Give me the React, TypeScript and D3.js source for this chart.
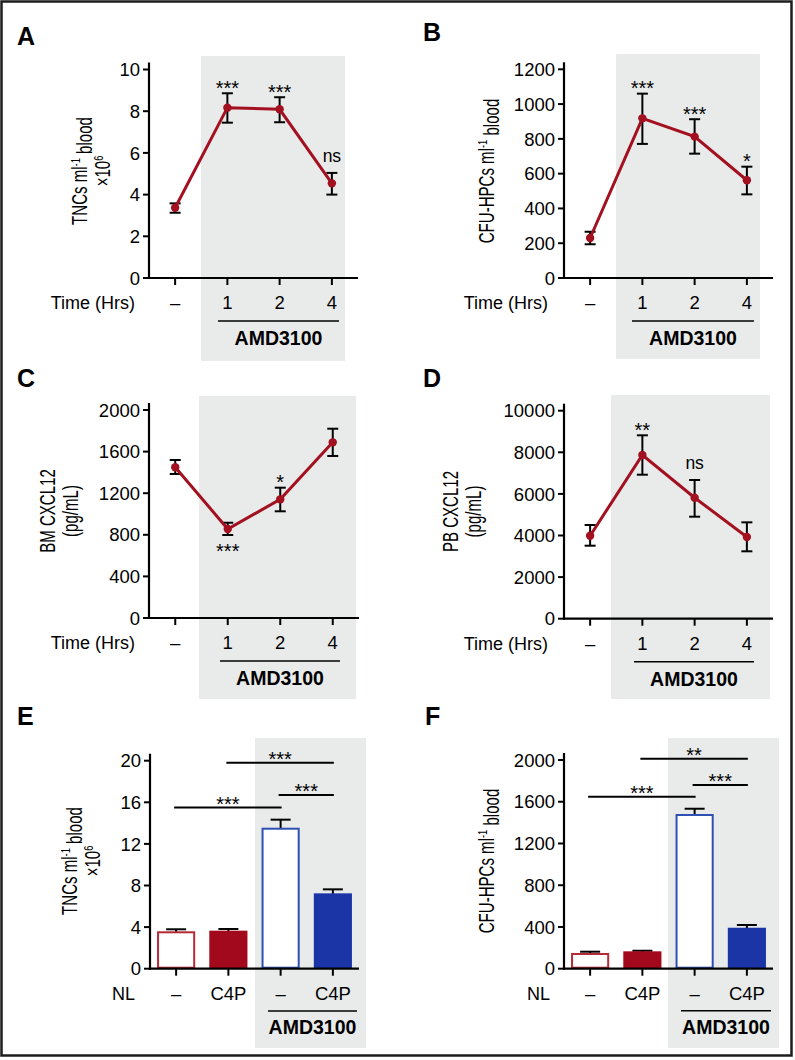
import * as d3 from "d3";

// ---- data ----
const timeCats = ["–", "1", "2", "4"];
const groupCats = ["–", "C4P", "– ", "C4P "];

const tncMean = [3.37, 8.17, 8.09, 4.54];
const tncLo = [3.13, 7.45, 7.47, 4.0];
const tncHi = [3.58, 8.86, 8.67, 5.04];
const tncSig = ["", "***", "***", "ns"];

const cfuMean = [230, 918, 813, 562];
const cfuLo = [194, 771, 715, 481];
const cfuHi = [266, 1060, 913, 640];
const cfuSig = ["", "***", "***", "*"];

const bmMean = [1449, 856, 1141, 1689];
const bmLo = [1385, 798, 1026, 1558];
const bmHi = [1519, 916, 1253, 1820];
const bmSig = ["", "***", "*", ""];
const bmSigBelow = [false, true, false, false];

const pbMean = [3990, 7870, 5817, 3928];
const pbLo = [3510, 6923, 4904, 3240];
const pbHi = [4505, 8817, 6668, 4633];
const pbSig = ["", "**", "ns", ""];

const eMean = [3.5, 3.56, 13.46, 7.15];
const eErr = [3.79, 3.82, 14.33, 7.63];
const eBrackets: [number, number, number, string][] = [
  [0, 2, 15.5, "***"],
  [1, 3, 19.8, "***"],
  [2, 3, 16.7, "***"],
];

const fMean = [141, 157, 1473, 383];
const fErr = [163, 172, 1533, 419];
const fBrackets: [number, number, number, string][] = [
  [0, 2, 1648, "***"],
  [1, 3, 2012, "**"],
  [2, 3, 1760, "***"],
];

const tncTicks = [0, 2, 4, 6, 8, 10];
const cfuTicks = [0, 200, 400, 600, 800, 1000, 1200];
const bmTicks = [0, 400, 800, 1200, 1600, 2000];
const pbTicks = [0, 2000, 4000, 6000, 8000, 10000];
const eTicks = [0, 4, 8, 12, 16, 20];
const fTicks = [0, 400, 800, 1200, 1600, 2000];

// ---- styles ----
const FONT = "'Liberation Sans', Arial, Helvetica, sans-serif";
const RED = "#a3101f";
const SHADE = "#e9ebeb";
const TICK_FS = 18.5;
const barFill = ["#ffffff", "#a3091c", "#ffffff", "#1b35a6"];
const barStroke = ["#b52a37", "#a3091c", "#2f50b3", "#1b35a6"];

type Layout = {
  letter: string; lx: number; ly: number;
  axisX: number; right: number; y0: number; yTop: number;
  shade: [number, number, number, number];
  under: [number, number, number];
  amdX: number; amdY: number;
  catTitle: string; catTitleX: number;
  yl: { x: number; parts: string }[];
  ylY: number;
};

function YLabelLine({ x, y, parts }: { x: number; y: number; parts: string }) {
  const sup = (s: string, next: string) => (
    <>
      <tspan fontSize="0.62em" dy="-0.55em">{s}</tspan>
      <tspan dy="0.55em">{next}</tspan>
    </>
  );
  let content: any = null;
  if (parts === "tnc") content = <>TNCs ml{sup("-1", " blood")}</>;
  if (parts === "cfu") content = <>CFU-HPCs ml{sup("-1", " blood")}</>;
  if (parts === "x10") content = <>×10{sup("6", "")}</>;
  if (parts === "bm") content = <>BM CXCL12</>;
  if (parts === "pb") content = <>PB CXCL12</>;
  if (parts === "pg") content = <>(pg/mL)</>;
  return (
    <text
      transform={`translate(${x},${y}) rotate(-90) scale(0.7,1)`}
      textAnchor="middle"
      fontSize={21.5}
      fontFamily={FONT}
    >
      {content}
    </text>
  );
}

function Frame({ L, ticks, cats, yMax, children }: any) {
  const y = d3.scaleLinear().domain([0, yMax]).range([L.y0, L.yTop]);
  const x = d3.scalePoint<string>().domain(cats).range([L.axisX, L.right]).padding(0.5);
  return (
    <g fontFamily={FONT}>
      <rect x={L.shade[0]} y={L.shade[2]} width={L.shade[1] - L.shade[0]} height={L.shade[3] - L.shade[2]} fill={SHADE} />
      <text x={L.lx} y={L.ly} fontSize={25} fontWeight="bold">{L.letter}</text>
      {children(x, y)}
      {/* y axis */}
      <line x1={L.axisX} x2={L.axisX} y1={L.yTop - 7} y2={L.y0 + 1} stroke="#000" strokeWidth={2.2} />
      {ticks.map((t: number) => (
        <g key={t}>
          <line x1={L.axisX - 6} x2={L.axisX} y1={y(t)} y2={y(t)} stroke="#000" strokeWidth={2} />
          <text x={L.axisX - 9} y={y(t)} dy="0.36em" textAnchor="end" fontSize={TICK_FS}>{t}</text>
        </g>
      ))}
      {/* x axis */}
      <line x1={L.axisX - 1} x2={L.right} y1={L.y0} y2={L.y0} stroke="#000" strokeWidth={2.2} />
      {cats.map((c: string) => (
        <g key={c}>
          <line x1={x(c)} x2={x(c)} y1={L.y0} y2={L.y0 + 7} stroke="#000" strokeWidth={2} />
          <text x={x(c)} y={L.y0 + 31} textAnchor="middle" fontSize={TICK_FS}>{c.trim()}</text>
        </g>
      ))}
      <text x={L.catTitleX} y={L.y0 + 31} textAnchor="end" fontSize={18}>{L.catTitle}</text>
      <line x1={L.under[0]} x2={L.under[1]} y1={L.under[2]} y2={L.under[2]} stroke="#000" strokeWidth={1.5} />
      <text x={L.amdX} y={L.amdY} textAnchor="middle" fontSize={19.5} fontWeight="bold">AMD3100</text>
      {L.yl.map((l: any, i: number) => (
        <YLabelLine key={i} x={l.x} y={L.ylY} parts={l.parts} />
      ))}
    </g>
  );
}

function LinePanel({ L, ticks, yMax, mean, lo, hi, sig, below }: any) {
  return (
    <Frame L={L} ticks={ticks} cats={timeCats} yMax={yMax}>
      {(x: any, y: any) => {
        const line = d3.line<number>().x((_, i) => x(timeCats[i])).y((d) => y(d));
        return (
          <g>
            {mean.map((m: number, i: number) => {
              const cx = x(timeCats[i]);
              return (
                <g key={i} stroke="#000" strokeWidth={2}>
                  <line x1={cx} x2={cx} y1={y(lo[i])} y2={y(hi[i])} />
                  <line x1={cx - 5.5} x2={cx + 5.5} y1={y(lo[i])} y2={y(lo[i])} />
                  <line x1={cx - 5.5} x2={cx + 5.5} y1={y(hi[i])} y2={y(hi[i])} />
                </g>
              );
            })}
            <path d={line(mean) || ""} fill="none" stroke={RED} strokeWidth={3} />
            {mean.map((m: number, i: number) => (
              <circle key={i} cx={x(timeCats[i])} cy={y(m)} r={4.2} fill={RED} />
            ))}
            {sig.map((s: string, i: number) => {
              if (!s) return null;
              const cx = x(timeCats[i]);
              const isBelow = below && below[i];
              const ty = isBelow ? y(lo[i]) + 23 : s === "ns" ? y(hi[i]) - 11 : y(hi[i]) + 1.5;
              return (
                <text key={i} x={cx} y={ty} textAnchor="middle" fontSize={s === "ns" ? 17.5 : 20}>{s}</text>
              );
            })}
          </g>
        );
      }}
    </Frame>
  );
}

function BarPanel({ L, ticks, yMax, mean, err, brackets }: any) {
  return (
    <Frame L={L} ticks={ticks} cats={groupCats} yMax={yMax}>
      {(x: any, y: any) => {
        const band = d3.scaleBand<string>().domain(groupCats).range([L.axisX, L.right]).paddingInner(0.27).paddingOuter(0.135);
        const bw = band.bandwidth();
        return (
          <g>
            {mean.map((m: number, i: number) => {
              const cx = x(groupCats[i]);
              return (
                <g key={i}>
                  <line x1={cx} x2={cx} y1={y(m)} y2={y(err[i])} stroke="#000" strokeWidth={2} />
                  <line x1={cx - 10} x2={cx + 10} y1={y(err[i])} y2={y(err[i])} stroke="#000" strokeWidth={2} />
                  <rect
                    x={(band(groupCats[i]) as number) + 1}
                    y={y(m)}
                    width={bw - 2}
                    height={L.y0 - y(m) - 1}
                    fill={barFill[i]}
                    stroke={barStroke[i]}
                    strokeWidth={2}
                  />
                </g>
              );
            })}
            {brackets.map((b: [number, number, number, string], i: number) => {
              const x1 = x(groupCats[b[0]]) - 2;
              const x2 = x(groupCats[b[1]]) + 1;
              const by = y(b[2]);
              return (
                <g key={i}>
                  <line x1={x1} x2={x2} y1={by} y2={by} stroke="#000" strokeWidth={2} />
                  <text x={(x1 + x2) / 2} y={by + 3} textAnchor="middle" fontSize={20}>{b[3]}</text>
                </g>
              );
            })}
          </g>
        );
      }}
    </Frame>
  );
}

const LA: Layout = {
  letter: "A", lx: 17, ly: 45, axisX: 149, right: 358, y0: 278, yTop: 69.5,
  shade: [201, 345, 56, 361], under: [218, 339, 321], amdX: 278.5, amdY: 345,
  catTitle: "Time (Hrs)", catTitleX: 135,
  yl: [{ x: 87, parts: "tnc" }, { x: 110, parts: "x10" }], ylY: 171,
};
const LB: Layout = {
  letter: "B", lx: 423, ly: 41, axisX: 564, right: 773, y0: 278, yTop: 69.3,
  shade: [616, 760, 54, 359], under: [632, 754, 321], amdX: 693, amdY: 345,
  catTitle: "Time (Hrs)", catTitleX: 548,
  yl: [{ x: 494, parts: "cfu" }], ylY: 171,
};
const LC: Layout = {
  letter: "C", lx: 17, ly: 387, axisX: 149, right: 359, y0: 618, yTop: 410,
  shade: [199, 356, 396, 699], under: [220, 340, 661], amdX: 280, amdY: 685,
  catTitle: "Time (Hrs)", catTitleX: 135,
  yl: [{ x: 55, parts: "bm" }, { x: 78, parts: "pg" }], ylY: 511,
};
const LD: Layout = {
  letter: "D", lx: 423, ly: 387, axisX: 564, right: 773, y0: 618.7, yTop: 410.7,
  shade: [611, 770, 395, 699], under: [634, 754, 661.7], amdX: 694, amdY: 685.5,
  catTitle: "Time (Hrs)", catTitleX: 548,
  yl: [{ x: 458, parts: "pb" }, { x: 481, parts: "pg" }], ylY: 511.5,
};
const LE: Layout = {
  letter: "E", lx: 17, ly: 725, axisX: 150, right: 359, y0: 968.7, yTop: 760.7,
  shade: [255, 366, 738, 1048], under: [268, 357, 1011], amdX: 312.5, amdY: 1034,
  catTitle: "NL", catTitleX: 135,
  yl: [{ x: 77, parts: "tnc" }, { x: 100, parts: "x10" }], ylY: 861,
};
const LF: Layout = {
  letter: "F", lx: 425, ly: 725, axisX: 564, right: 773, y0: 968.7, yTop: 760,
  shade: [668, 779, 738, 1048], under: [681, 771, 1010.7], amdX: 726, amdY: 1034,
  catTitle: "NL", catTitleX: 550,
  yl: [{ x: 494, parts: "cfu" }], ylY: 861,
};

export default function App() {
  return (
    <svg
      width={795}
      height={1060}
      style={{ position: "absolute", left: 0, top: 0, background: "#fff" }}
    >
      <rect x={0} y={0} width={795} height={1060} fill="#fff" />
      <LinePanel L={LA} ticks={tncTicks} yMax={10} mean={tncMean} lo={tncLo} hi={tncHi} sig={tncSig} />
      <LinePanel L={LB} ticks={cfuTicks} yMax={1200} mean={cfuMean} lo={cfuLo} hi={cfuHi} sig={cfuSig} />
      <LinePanel L={LC} ticks={bmTicks} yMax={2000} mean={bmMean} lo={bmLo} hi={bmHi} sig={bmSig} below={bmSigBelow} />
      <LinePanel L={LD} ticks={pbTicks} yMax={10000} mean={pbMean} lo={pbLo} hi={pbHi} sig={pbSig} />
      <BarPanel L={LE} ticks={eTicks} yMax={20} mean={eMean} err={eErr} brackets={eBrackets} />
      <BarPanel L={LF} ticks={fTicks} yMax={2000} mean={fMean} err={fErr} brackets={fBrackets} />
      <rect x={1.5} y={1.5} width={790} height={1054} fill="none" stroke="#1c1c1c" strokeWidth={2.5} />
    </svg>
  );
}
